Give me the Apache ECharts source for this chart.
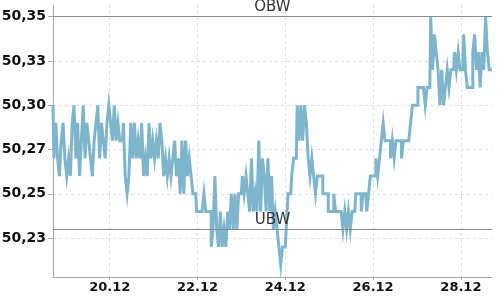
<!DOCTYPE html>
<html><head><meta charset="utf-8">
<script src="https://cdn.jsdelivr.net/npm/echarts@6/dist/echarts.min.js"></script>
<style>html,body{margin:0;padding:0;background:#fff}#c{width:500px;height:300px}</style>
</head><body><div id="c"></div>
<script>
// hourly readings starting 18.12 17:00
const startDate = [2023, 11, 18, 17];
const stepHours = 1;
const values = [
 50.30,50.27,50.29,50.27,50.26,50.28,50.29,50.27,50.26,50.27,50.26,
 50.29,50.30,50.27,50.29,50.26,50.28,50.30,50.27,50.29,50.28,
 50.27,50.26,50.28,50.29,50.30,50.27,50.29,50.28,50.27,50.29,
 50.30,50.29,50.28,50.30,50.28,50.29,50.28,50.28,50.29,50.26,
 50.25,50.26,50.29,50.27,50.29,50.27,50.28,50.27,50.29,50.26,
 50.27,50.26,50.29,50.27,50.28,50.27,50.28,50.27,50.29,50.28,
 50.26,50.27,50.26,50.27,50.26,50.27,50.28,50.26,50.27,50.25,
 50.28,50.25,50.28,50.26,50.27,50.26,50.25,50.25,50.24,50.24,
 50.24,50.24,50.25,50.24,50.24,50.24,50.22,50.23,50.26,50.23,
 50.22,50.24,50.22,50.23,50.22,50.24,50.23,50.25,50.23,50.25,
 50.23,50.25,50.25,50.26,50.25,50.26,50.25,50.24,50.27,50.24,
 50.25,50.24,50.28,50.24,50.27,50.26,50.24,50.27,50.24,50.26,
 50.23,50.24,50.23,50.22,50.21,50.22,50.22,50.23,50.25,50.25,
 50.26,50.27,50.27,50.30,50.28,50.30,50.28,50.30,50.29,50.27,
 50.26,50.27,50.26,50.25,50.26,50.26,50.26,50.25,50.25,50.25,
 50.24,50.24,50.24,50.25,50.24,50.24,50.24,50.24,50.23,50.24,
 50.23,50.24,50.23,50.24,50.24,50.25,50.25,50.25,50.24,50.25,
 50.25,50.24,50.25,50.26,50.26,50.26,50.27,50.26,50.27,50.28,
 50.29,50.28,50.28,50.28,50.27,50.28,50.27,50.28,50.28,50.28,
 50.27,50.28,50.28,50.28,50.28,50.29,50.30,50.30,50.30,50.31,
 50.31,50.31,50.31,50.30,50.31,50.31,50.35,50.32,50.34,50.33,
 50.32,50.30,50.32,50.30,50.31,50.32,50.31,50.32,50.32,50.33,
 50.32,50.33,50.32,50.32,50.34,50.32,50.31,50.31,50.31,50.33,
 50.34,50.32,50.33,50.31,50.33,50.32,50.35,50.33,50.32,50.32
];
const spanHours = 240;
const xTickDates = [[2023,11,20],[2023,11,22],[2023,11,24],[2023,11,26],[2023,11,28]];
const xTickLabels = ['20.12','22.12','24.12','26.12','28.12'];
const yTickValues = [50.225, 50.25, 50.275, 50.30, 50.325, 50.35];
const yTickLabels = ['50,23','50,25','50,27','50,30','50,33','50,35'];
const yMin = 50.203, yMax = 50.3566;
const bandNames = ['OBW', 'UBW'];
const bandValues = [50.35, 50.23];

const HOUR = 3600000;
const startTime = new Date(startDate[0], startDate[1], startDate[2], startDate[3]).getTime();
const seriesData = values.map((v, i) => [startTime + i * stepHours * HOUR, v]);
const xTicks = xTickDates.map(d => new Date(d[0], d[1], d[2]).getTime());
function nearestIdx(arr, v) { let b = 0; for (let i = 1; i < arr.length; i++) if (Math.abs(arr[i] - v) < Math.abs(arr[b] - v)) b = i; return b; }

const chart = echarts.init(document.getElementById('c'), null, {renderer: 'canvas'});
chart.setOption({
  animation: false,
  backgroundColor: '#fff',
  grid: {left: 53, right: 8, top: 5, bottom: 23, outerBoundsMode: 'none'},
  xAxis: {
    type: 'value', min: startTime, max: startTime + spanHours * HOUR, scale: true,
    axisLine: {show: true, lineStyle: {color: '#aaa', width: 1}},
    axisTick: {show: true, length: 3, customValues: xTicks, lineStyle: {color: '#aaa'}},
    axisLabel: {customValues: xTicks, formatter: v => xTickLabels[nearestIdx(xTicks, v)],
      color: '#111', fontFamily: 'DejaVu Sans', fontWeight: 'bold', fontSize: 13, margin: 4},
    splitLine: {show: true, lineStyle: {color: '#ddd', type: [3, 3], width: 1}}
  },
  yAxis: {
    type: 'value', min: yMin, max: yMax, scale: true,
    axisLine: {show: true, lineStyle: {color: '#aaa', width: 1}},
    axisTick: {show: true, length: 5, customValues: yTickValues, lineStyle: {color: '#aaa'}},
    axisLabel: {customValues: yTickValues, formatter: v => yTickLabels[nearestIdx(yTickValues, v)],
      color: '#111', fontFamily: 'DejaVu Sans', fontWeight: 'bold', fontSize: 14, margin: 7},
    splitLine: {show: true, lineStyle: {color: '#ddd', type: [3, 3], width: 1}}
  },
  series: [{
    type: 'line', data: seriesData, showSymbol: false, symbol: 'none', step: 'middle',
    lineStyle: {color: '#7eb5cd', width: 3, join: 'miter'}, itemStyle: {color: '#7eb5cd'},
    emphasis: {disabled: true},
    markLine: {
      silent: true, symbol: 'none', animation: false,
      lineStyle: {color: '#888', type: 'solid', width: 1},
      label: {position: 'middle', formatter: p => p.name, color: '#333', fontSize: 15, fontFamily: 'DejaVu Sans', distance: 2},
      data: bandNames.map((n, i) => ({name: n, yAxis: bandValues[i]}))
    }
  }]
});
</script></body></html>
